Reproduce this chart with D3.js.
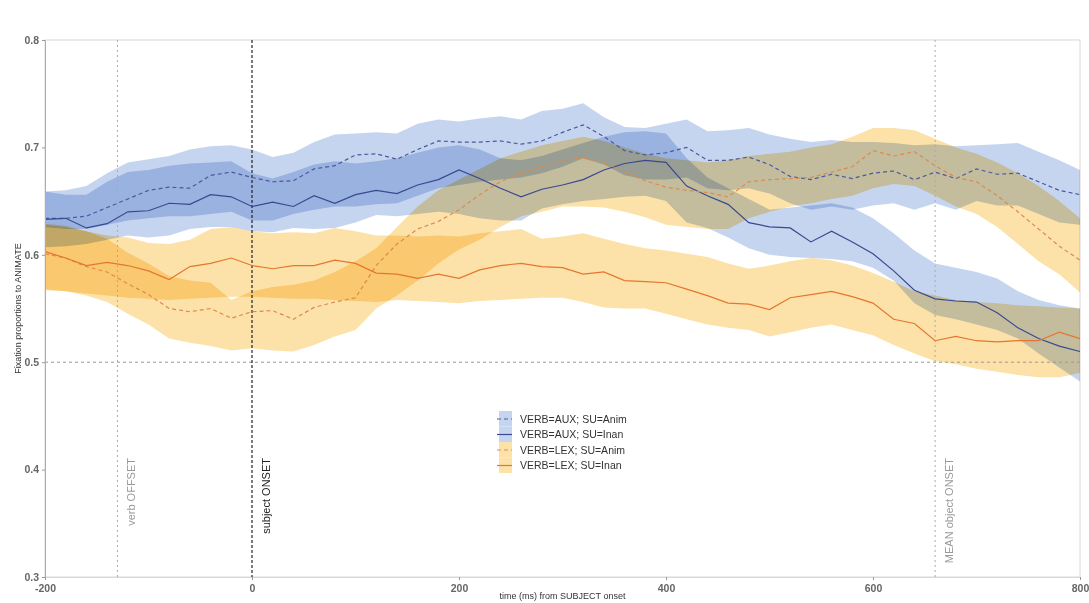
<!DOCTYPE html>
<html>
<head>
<meta charset="utf-8">
<script src="https://cdn.jsdelivr.net/npm/d3@7"></script>
<style>
  body { margin: 0; background: #fff; }
  text { font-family: "Liberation Sans", Arial, sans-serif; }
</style>
</head>
<body>
<div id="chart"></div>
<script>
/* Fixation proportions to the animate picture, by verb type and subject animacy */

// time points (ms from subject onset)
const times = [-200,-180,-160,-140,-120,-100,-80,-60,-40,-20,
    0,20,40,60,80,100,120,140,160,180,
    200,220,240,260,280,300,320,340,360,380,
    400,420,440,460,480,500,520,540,560,580,
    600,620,640,660,680,700,720,740,760,780,800];

// VERB=AUX; SU=Anim
const auxAnimMean = [0.634,0.634,0.636,0.644,0.652,0.660,0.663,0.662,0.674,0.677,
    0.672,0.668,0.669,0.680,0.683,0.693,0.694,0.689,0.698,0.706,
    0.705,0.705,0.706,0.703,0.706,0.714,0.721,0.710,0.697,0.693,
    0.695,0.700,0.688,0.688,0.691,0.684,0.673,0.670,0.675,0.671,
    0.676,0.678,0.670,0.677,0.671,0.680,0.675,0.676,0.668,0.660,0.656];
const auxAnimHi = [0.659,0.660,0.664,0.676,0.686,0.689,0.692,0.698,0.701,0.702,
    0.698,0.691,0.695,0.705,0.712,0.713,0.714,0.713,0.722,0.726,
    0.724,0.727,0.729,0.726,0.734,0.736,0.741,0.728,0.719,0.718,
    0.722,0.726,0.715,0.716,0.718,0.712,0.708,0.705,0.707,0.705,
    0.705,0.704,0.702,0.703,0.701,0.702,0.703,0.704,0.696,0.688,0.679];
const auxAnimLo = [0.626,0.624,0.624,0.628,0.632,0.634,0.636,0.636,0.638,0.640,
    0.632,0.632,0.638,0.642,0.645,0.645,0.647,0.648,0.655,0.662,
    0.665,0.668,0.670,0.672,0.676,0.682,0.690,0.684,0.674,0.670,
    0.670,0.672,0.662,0.660,0.662,0.657,0.648,0.642,0.645,0.642,
    0.646,0.648,0.642,0.648,0.642,0.650,0.646,0.646,0.638,0.630,0.628];

// VERB=AUX; SU=Inan
const auxInanMean = [0.633,0.634,0.625,0.629,0.640,0.641,0.648,0.647,0.656,0.654,
    0.645,0.649,0.645,0.655,0.648,0.656,0.660,0.657,0.665,0.670,
    0.679,0.671,0.662,0.654,0.661,0.665,0.670,0.679,0.685,0.688,
    0.686,0.664,0.655,0.647,0.630,0.626,0.625,0.612,0.622,0.612,
    0.601,0.585,0.567,0.559,0.557,0.556,0.546,0.532,0.522,0.515,0.510];
const auxInanHi = [0.659,0.656,0.656,0.668,0.677,0.679,0.683,0.685,0.686,0.687,
    0.676,0.671,0.677,0.684,0.687,0.685,0.687,0.690,0.695,0.700,
    0.702,0.698,0.690,0.688,0.692,0.698,0.704,0.710,0.714,0.715,
    0.713,0.690,0.672,0.662,0.652,0.642,0.644,0.646,0.648,0.644,
    0.634,0.620,0.604,0.592,0.588,0.584,0.578,0.566,0.558,0.553,0.550];
const auxInanLo = [0.607,0.608,0.610,0.614,0.618,0.616,0.618,0.624,0.626,0.626,
    0.622,0.621,0.625,0.624,0.625,0.630,0.637,0.636,0.638,0.640,
    0.638,0.634,0.632,0.632,0.643,0.647,0.650,0.652,0.654,0.655,
    0.650,0.630,0.625,0.616,0.606,0.600,0.598,0.597,0.596,0.594,
    0.588,0.576,0.555,0.544,0.540,0.535,0.530,0.522,0.508,0.495,0.482];

// VERB=LEX; SU=Anim
const lexAnimMean = [0.601,0.597,0.589,0.584,0.573,0.563,0.550,0.547,0.550,0.541,
    0.547,0.548,0.540,0.551,0.556,0.560,0.590,0.610,0.624,0.631,
    0.642,0.656,0.668,0.676,0.682,0.688,0.690,0.686,0.677,0.669,
    0.663,0.660,0.658,0.654,0.668,0.670,0.671,0.672,0.677,0.682,
    0.697,0.692,0.696,0.683,0.672,0.668,0.655,0.640,0.624,0.608,0.595];
const lexAnimHi = [0.628,0.626,0.622,0.615,0.602,0.592,0.580,0.576,0.574,0.558,
    0.566,0.570,0.572,0.576,0.584,0.594,0.606,0.626,0.645,0.660,
    0.670,0.680,0.690,0.696,0.702,0.706,0.710,0.706,0.700,0.694,
    0.690,0.688,0.686,0.688,0.692,0.694,0.696,0.700,0.703,0.710,
    0.718,0.718,0.716,0.708,0.700,0.694,0.686,0.676,0.664,0.650,0.634];
const lexAnimLo = [0.568,0.566,0.562,0.556,0.545,0.535,0.522,0.518,0.515,0.511,
    0.513,0.511,0.510,0.516,0.524,0.530,0.550,0.562,0.576,0.592,
    0.605,0.614,0.626,0.636,0.640,0.645,0.645,0.644,0.640,0.635,
    0.628,0.626,0.624,0.624,0.634,0.640,0.645,0.648,0.652,0.655,
    0.662,0.666,0.664,0.655,0.645,0.638,0.626,0.610,0.594,0.582,0.565];

// VERB=LEX; SU=Inan
const lexInanMean = [0.603,0.597,0.590,0.593,0.590,0.585,0.577,0.589,0.592,0.597,
    0.590,0.587,0.590,0.590,0.595,0.592,0.583,0.582,0.578,0.582,
    0.578,0.586,0.590,0.592,0.589,0.588,0.582,0.584,0.576,0.575,
    0.574,0.568,0.562,0.555,0.554,0.549,0.560,0.563,0.566,0.561,
    0.555,0.540,0.536,0.520,0.524,0.520,0.519,0.520,0.520,0.528,0.522];
const lexInanHi = [0.629,0.627,0.622,0.618,0.616,0.611,0.610,0.614,0.624,0.626,
    0.622,0.620,0.621,0.620,0.625,0.622,0.618,0.618,0.617,0.618,
    0.617,0.620,0.622,0.624,0.615,0.617,0.620,0.615,0.610,0.606,
    0.604,0.601,0.598,0.592,0.587,0.590,0.594,0.597,0.595,0.590,
    0.583,0.575,0.566,0.562,0.558,0.556,0.555,0.553,0.552,0.551,0.550];
const lexInanLo = [0.567,0.566,0.564,0.562,0.560,0.559,0.558,0.559,0.560,0.561,
    0.561,0.560,0.559,0.559,0.558,0.557,0.556,0.558,0.557,0.556,
    0.555,0.557,0.558,0.559,0.560,0.560,0.556,0.551,0.550,0.550,
    0.545,0.540,0.535,0.532,0.530,0.524,0.528,0.532,0.535,0.530,
    0.525,0.516,0.508,0.501,0.498,0.494,0.491,0.488,0.486,0.486,0.490];

// axis ticks and reference events
const xTicks = [-200, 0, 200, 400, 600, 800];
const yTicks = [0.3, 0.4, 0.5, 0.6, 0.7, 0.8];
const events = [
    { t: -130, label: "verb OFFSET" },
    { t: 0, label: "subject ONSET" },
    { t: 660, label: "MEAN object ONSET" }
];
const seriesNames = ["VERB=AUX; SU=Anim", "VERB=AUX; SU=Inan", "VERB=LEX; SU=Anim", "VERB=LEX; SU=Inan"];

// build one record per condition
const series = [
    { name: seriesNames[0], mean: auxAnimMean, lo: auxAnimLo, hi: auxAnimHi, band: "#c6d5ef", line: "#4a5a9e", dash: "4,3" },
    { name: seriesNames[1], mean: auxInanMean, lo: auxInanLo, hi: auxInanHi, band: "#c6d5ef", line: "#3a4892", dash: null },
    { name: seriesNames[2], mean: lexAnimMean, lo: lexAnimLo, hi: lexAnimHi, band: "#fce2a8", line: "#dd8a4c", dash: "4,3" },
    { name: seriesNames[3], mean: lexInanMean, lo: lexInanLo, hi: lexInanHi, band: "#fce2a8", line: "#e5762f", dash: null }
];

const width = 1089,
      height = 603,
      margin = ({ top: 40, right: 9, bottom: 26, left: 45 });

let svg = d3.select("#chart")
    .append("svg")
    .attr("width", width)
    .attr("height", height);

let x = d3.scaleLinear()
    .domain([-200, 800])
    .range([margin.left, width - margin.right]);

let y = d3.scaleLinear()
    .domain([0.3, 0.8])
    .range([height - margin.bottom, margin.top]);

// light frame round the plot
svg.append("rect")
    .attr("x", margin.left)
    .attr("y", margin.top)
    .attr("width", width - margin.right - margin.left)
    .attr("height", height - margin.bottom - margin.top)
    .attr("fill", "none")
    .attr("stroke", "#ddd6d6");

// confidence bands, multiplied so that overlaps get darker
let area = d3.area()
    .x((d, i) => x(times[i]))
    .y0(d => y(d[0]))
    .y1(d => y(d[1]));

svg.append("g")
    .selectAll("path")
    .data(series)
    .join("path")
    .attr("d", s => area(s.lo.map((v, i) => [v, s.hi[i]])))
    .attr("fill", s => s.band)
    .style("mix-blend-mode", "multiply");

// reference lines
svg.append("line")
    .attr("x1", margin.left).attr("x2", width - margin.right)
    .attr("y1", y(0.5)).attr("y2", y(0.5))
    .attr("stroke", "#999")
    .attr("stroke-dasharray", "3,3");

svg.append("g")
    .selectAll("line")
    .data(events)
    .join("line")
    .attr("x1", d => x(d.t)).attr("x2", d => x(d.t))
    .attr("y1", margin.top).attr("y2", height - margin.bottom)
    .attr("stroke", d => d.t === 0 ? "#222" : "#aaa")
    .attr("stroke-width", d => d.t === 0 ? 1.2 : 1)
    .attr("stroke-dasharray", d => d.t === 0 ? "3,2" : "2,3");

svg.append("g")
    .selectAll("text")
    .data(events)
    .join("text")
    .attr("transform", d => `translate(${x(d.t) + 18},458) rotate(-90)`)
    .attr("text-anchor", "end")
    .attr("font-size", 11)
    .attr("fill", d => d.t === 0 ? "#222" : "#999")
    .text(d => d.label);

// mean lines
let line = d3.line()
    .x((d, i) => x(times[i]))
    .y(d => y(d));

svg.append("g")
    .selectAll("path")
    .data(series)
    .join("path")
    .attr("d", s => line(s.mean))
    .attr("fill", "none")
    .attr("stroke", s => s.line)
    .attr("stroke-width", 1.2)
    .attr("stroke-dasharray", s => s.dash);

// axes
let yAxis = svg.append("g")
    .attr("transform", `translate(${margin.left},0)`)
    .call(d3.axisLeft(y).tickValues(yTicks).tickFormat(d3.format(".1f")).tickSize(3).tickPadding(3));

let xAxis = svg.append("g")
    .attr("transform", `translate(0,${height - margin.bottom})`)
    .call(d3.axisBottom(x).tickValues(xTicks).tickFormat(d => String(d)).tickSize(3).tickPadding(5));

yAxis.select(".domain").attr("stroke", "#b5aaaa");
xAxis.select(".domain").attr("stroke", "#ddd6d6");
svg.selectAll(".tick line").attr("stroke", "#999");
svg.selectAll(".tick text")
    .attr("font-family", "Liberation Sans, Arial, sans-serif")
    .attr("font-size", 10.5)
    .attr("font-weight", "bold")
    .attr("fill", "#666");

// axis titles
svg.append("text")
    .attr("x", (margin.left + width - margin.right) / 2)
    .attr("y", 599)
    .attr("text-anchor", "middle")
    .attr("font-size", 9)
    .attr("fill", "#333")
    .text("time (ms) from SUBJECT onset");

svg.append("text")
    .attr("transform", `translate(21,${(margin.top + height - margin.bottom) / 2}) rotate(-90)`)
    .attr("text-anchor", "middle")
    .attr("font-size", 9)
    .attr("fill", "#333")
    .text("Fixation proportions to ANIMATE");

// legend
let legend = svg.append("g")
    .attr("transform", "translate(497,411)");

let item = legend.selectAll("g")
    .data(series)
    .join("g")
    .attr("transform", (d, i) => `translate(0,${i * 15.5})`);

item.append("rect")
    .attr("x", 2)
    .attr("width", 13)
    .attr("height", 15.5)
    .attr("fill", d => d.band);

item.append("line")
    .attr("x1", 0).attr("x2", 15)
    .attr("y1", 8).attr("y2", 8)
    .attr("stroke", d => d.line)
    .attr("stroke-width", 1.2)
    .attr("stroke-dasharray", d => d.dash);

item.append("text")
    .attr("x", 23)
    .attr("y", 8)
    .attr("dy", "0.35em")
    .attr("font-size", 10.5)
    .attr("fill", "#333")
    .text(d => d.name);
</script>
</body>
</html>
